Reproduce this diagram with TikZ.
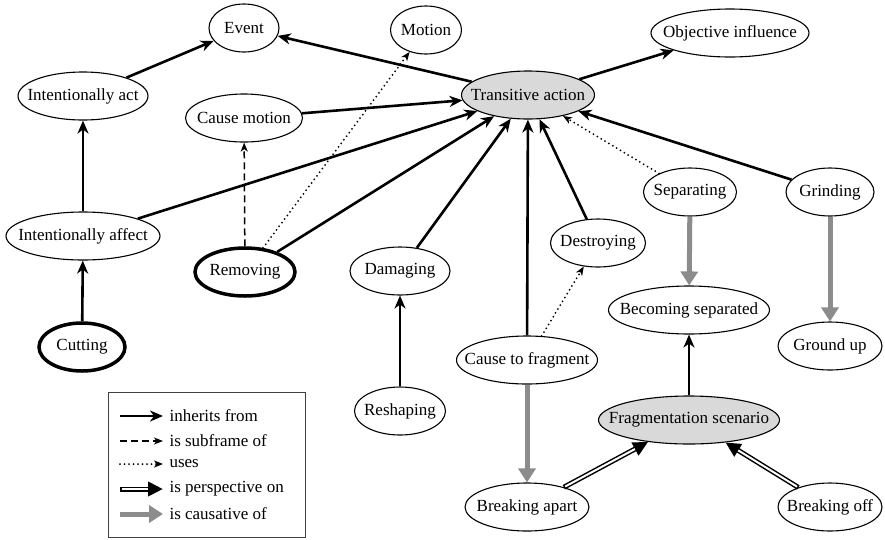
\documentclass[tikz,border=0pt]{standalone}
\usepackage{fontspec}
\setmainfont{Liberation Serif}
\usetikzlibrary{arrows.meta,shapes.geometric}

\begin{document}
\begin{tikzpicture}[x=1pt,y=-1pt,font=\rmfamily\fontsize{17}{20}\selectfont,
 fr/.style={ellipse,draw,line width=1.1pt,inner xsep=-40pt,inner ysep=-10pt,minimum height=48pt,minimum width=#1},
 frb/.style={fr=#1,line width=3.5pt},
 frg/.style={fr=#1,fill=black!15},
 inh/.style={line width=2.6pt,-{Stealth[length=13pt,width=11pt,inset=4pt]}},
 sub/.style={line width=1.5pt,dash pattern=on 7pt off 4pt,-{Stealth[length=9pt,width=7pt,inset=2.5pt]}},
 uses/.style={line width=2pt,line cap=round,dash pattern=on 0pt off 4.5pt,-{Stealth[length=9pt,width=7pt,inset=2.5pt]}},
 persp/.style={line width=5pt,-{Triangle[length=15pt,width=14pt]}},
 perspin/.style={white,line width=2pt,shorten >=15pt,shorten <=1.5pt},
 caus/.style={line width=5pt,black!45,-{Triangle[length=14pt,width=17pt]}}]
\useasboundingbox (0,0) rectangle (885,539);
\node[fr=70pt]  (ev)     at (244,28)  {Event};
\node[fr=71pt]  (mot)    at (426,30)  {Motion};
\node[fr=158pt] (obj)    at (730,33)  {Objective influence};
\node[fr=130pt] (iact)   at (83,96)   {Intentionally act};
\node[fr=117pt] (cmot)   at (244,118) {Cause motion};
\node[frg=133pt] (trans) at (528,95)  {Transitive action};
\node[fr=93pt]  (sep)    at (690,192) {Separating};
\node[fr=88pt]  (grind)  at (830,192) {Grinding};
\node[fr=154pt] (iaff)   at (83,236)  {Intentionally affect};
\node[frb=100pt] (rem)   at (245,272) {Removing};
\node[fr=95pt]  (destr)  at (598,243) {Destroying};
\node[fr=100pt] (dam)    at (400,271) {Damaging};
\node[fr=161pt] (becsep) at (689,310) {Becoming separated};
\node[fr=104pt] (grnd)   at (830,346) {Ground up};
\node[frb=86pt] (cut)    at (82,347)  {Cutting};
\node[fr=141pt] (cfrag)  at (527,360) {Cause to fragment};
\node[fr=91pt]  (resh)   at (400,411) {Reshaping};
\node[frg=181pt] (fragsc) at (689,420) {Fragmentation scenario};
\node[fr=124pt] (bapart) at (527,507) {Breaking apart};
\node[fr=104pt] (boff)   at (830,507) {Breaking off};
\draw[inh] (iact) -- (ev);
\draw[inh] (iaff) -- (iact);
\draw[inh] (cut) -- (iaff);
\draw[inh] (trans) -- (ev);
\draw[inh] (trans) -- (obj);
\draw[inh] (cmot) -- (trans);
\draw[inh] (iaff) -- (trans);
\draw[inh] (rem) -- (trans);
\draw[sub] (rem) -- (cmot);
\draw[uses] (rem) -- (mot);
\draw[inh] (dam) -- (trans);
\draw[inh] (resh) -- (dam);
\draw[inh] (cfrag) -- (trans);
\draw[uses] (cfrag) -- (destr);
\draw[inh] (destr) -- (trans);
\draw[uses] (sep) -- (trans);
\draw[inh] (grind) -- (trans);
\draw[caus] (sep) -- (becsep);
\draw[caus] (grind) -- (grnd);
\draw[inh] (fragsc) -- (becsep);
\draw[caus] (cfrag) -- (bapart);
\draw[persp] (bapart) -- (fragsc);
\draw[perspin] (bapart) -- (fragsc);
\draw[persp] (boff) -- (fragsc);
\draw[perspin] (boff) -- (fragsc);
\draw[line width=0.8pt,black!75] (108,392) rectangle (305,537);
\coordinate (la1) at (120,416); \coordinate (lb1) at (163,416);
\coordinate (la2) at (120,441); \coordinate (lb2) at (163,441);
\coordinate (la3) at (120,464); \coordinate (lb3) at (163,464);
\coordinate (la4) at (120,489); \coordinate (lb4) at (163,489);
\coordinate (la5) at (120,514); \coordinate (lb5) at (163,514);
\draw[inh] (la1) -- (lb1);
\draw[sub] (la2) -- (lb2);
\draw[uses] (la3) -- (lb3);
\draw[persp] (la4) -- (lb4);
\draw[perspin] (la4) -- (lb4);
\draw[caus] (la5) -- (lb5);
\node[anchor=west] (lt1) at (166,416) {inherits from};
\node[anchor=west] (lt2) at (166,441) {is subframe of};
\node[anchor=west] (lt3) at (166,464) {uses};
\node[anchor=west] (lt4) at (166,489) {is perspective on};
\node[anchor=west] (lt5) at (166,514) {is causative of};
\end{tikzpicture}
\end{document}
